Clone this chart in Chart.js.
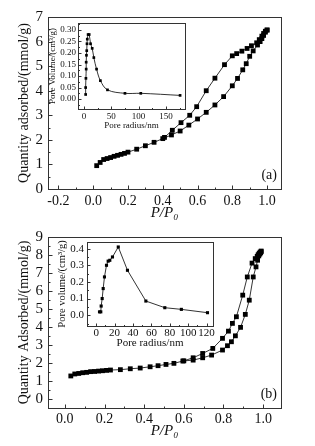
<!DOCTYPE html>
<html>
<head>
<meta charset="utf-8">
<script src="https://cdn.jsdelivr.net/npm/chart.js@4.4.1/dist/chart.umd.min.js"></script>
<style>
  html, body { margin: 0; padding: 0; background: #fff; overflow: hidden; }
  #wrap { position: relative; width: 315px; height: 446px; }
  canvas { position: absolute; }
</style>
</head>
<body>
<div id="wrap">
  <canvas id="mainA" width="315" height="222" style="left:0;top:0"></canvas>
  <canvas id="mainB" width="315" height="224" style="left:0;top:222px"></canvas>
  <canvas id="insetA" width="145" height="112" style="left:44px;top:19px"></canvas>
  <canvas id="insetB" width="162" height="114" style="left:55px;top:238px"></canvas>
</div>
<script>
// DATA
// -----------------------------------------------------------------------------
// (a) isotherm, adsorption and desorption branches
var aAdsP = [0.02, 0.04, 0.06, 0.08, 0.10, 0.12, 0.14, 0.16, 0.18, 0.20, 0.25, 0.30, 0.35, 0.40, 0.45, 0.50, 0.55, 0.60, 0.65, 0.70, 0.75, 0.80, 0.83, 0.86, 0.88, 0.90, 0.92, 0.945, 0.96, 0.97, 0.98, 0.99, 1.0];
var aAdsQ = [0.95, 1.08, 1.20, 1.24, 1.28, 1.33, 1.37, 1.41, 1.45, 1.50, 1.62, 1.76, 1.90, 2.05, 2.20, 2.36, 2.60, 2.85, 3.12, 3.42, 3.76, 4.20, 4.50, 4.85, 5.10, 5.40, 5.62, 5.86, 6.00, 6.12, 6.25, 6.38, 6.47];
var aDesP = [1.0, 0.99, 0.98, 0.97, 0.955, 0.94, 0.91, 0.885, 0.855, 0.825, 0.80, 0.755, 0.70, 0.65, 0.595, 0.555, 0.505, 0.455, 0.41];
var aDesQ = [6.47, 6.42, 6.33, 6.22, 6.08, 5.95, 5.83, 5.72, 5.61, 5.51, 5.42, 5.06, 4.51, 4.00, 3.35, 3.00, 2.70, 2.39, 2.10];

// (a) inset, pore size distribution
var aPoreR = [3, 3, 3.5, 4, 4, 4.5, 5, 5.5, 6, 7.5, 9.5, 12, 15, 18, 23, 30, 43, 75, 104, 176];
var aPoreV = [0.02, 0.05, 0.09, 0.13, 0.16, 0.19, 0.21, 0.24, 0.26, 0.28, 0.28, 0.24, 0.22, 0.18, 0.13, 0.08, 0.04, 0.025, 0.025, 0.016];

// (b) isotherm
var bAdsP = [0.03, 0.05, 0.07, 0.09, 0.11, 0.13, 0.15, 0.17, 0.19, 0.21, 0.23, 0.28, 0.33, 0.38, 0.43, 0.47, 0.51, 0.55, 0.595, 0.647, 0.695, 0.74, 0.795, 0.82, 0.84, 0.86, 0.886, 0.91, 0.93, 0.95, 0.964, 0.972, 0.978, 0.983, 0.987, 0.99];
var bAdsQ = [1.28, 1.39, 1.42, 1.46, 1.48, 1.52, 1.53, 1.55, 1.57, 1.59, 1.61, 1.63, 1.68, 1.72, 1.79, 1.85, 1.92, 1.98, 2.11, 2.16, 2.29, 2.44, 2.72, 2.96, 3.18, 3.51, 3.98, 4.70, 5.49, 6.78, 7.34, 7.71, 7.95, 8.05, 8.12, 8.18];
var bDesP = [0.99, 0.985, 0.98, 0.975, 0.97, 0.96, 0.944, 0.92, 0.897, 0.865, 0.845, 0.825, 0.795, 0.746, 0.695, 0.647, 0.60];
var bDesQ = [8.22, 8.16, 8.10, 8.02, 7.93, 7.80, 7.55, 6.78, 5.77, 4.57, 4.20, 3.77, 3.37, 2.81, 2.53, 2.29, 2.12];

// (b) inset
var bPoreR = [3.6, 5, 5.4, 6.5, 7.6, 9, 11.2, 13, 14.8, 17.7, 24, 34, 54, 74.6, 92.6, 121];
var bPoreV = [0.02, 0.02, 0.055, 0.10, 0.16, 0.23, 0.30, 0.325, 0.33, 0.35, 0.41, 0.27, 0.085, 0.045, 0.035, 0.015];

// Tick labels
var aXTicks = [-0.2, 0.0, 0.2, 0.4, 0.6, 0.8, 1.0];
var aYTicks = [0, 1, 2, 3, 4, 5, 6, 7];
var bXTicks = [0.0, 0.2, 0.4, 0.6, 0.8, 1.0];
var bYTicks = [0, 1, 2, 3, 4, 5, 6, 7, 8, 9];
var aInXTicks = [0, 50, 100, 150];
var aInYTicks = [0.00, 0.05, 0.10, 0.15, 0.20, 0.25, 0.30];
var bInXTicks = [0, 20, 40, 60, 80, 100, 120];
var bInYTicks = [0.0, 0.1, 0.2, 0.3, 0.4];

// SETUP
// -----------------------------------------------------------------------------
var SERIF = '"Liberation Serif", "Times New Roman", serif';
Chart.defaults.font.family = SERIF;
Chart.defaults.color = '#111';

function pts(xs, ys) {
    return xs.map(function(v, i) { return { x: v, y: ys[i] }; });
}

function fixTicks(list) {
    return function(s) { s.ticks = list.map(function(v) { return { value: v }; }); };
}

// box round the plot area, inward ticks, panel label
var frame = {
    id: 'frame',
    beforeDraw: function(chart) {
        var a = chart.chartArea, ctx = chart.ctx;
        ctx.save();
        ctx.fillStyle = '#fff';
        ctx.fillRect(a.left, a.top, a.width, a.height);
        ctx.restore();
    },
    afterDraw: function(chart, args, o) {
        var ctx = chart.ctx, a = chart.chartArea;
        var sx = chart.scales.x, sy = chart.scales.y;
        var L = Math.round(a.left) + 0.5, R = Math.round(a.right) + 0.5;
        var T = Math.round(a.top) + 0.5, B = Math.round(a.bottom) + 0.5;
        ctx.save();
        ctx.strokeStyle = '#333';
        ctx.lineWidth = 1;
        ctx.strokeRect(L, T, R - L, B - T);

        function withMinor(vals) {
            var out = [];
            var step = vals[1] - vals[0];
            vals.forEach(function(v) { out.push([v, 1]); out.push([v + step / 2, 0]); });
            out.push([vals[0] - step / 2, 0]);
            return out;
        }
        ctx.beginPath();
        withMinor(sx.ticks.map(function(t) { return t.value; })).forEach(function(m) {
            if (m[0] < sx.min || m[0] > sx.max) return;
            var p = Math.round(sx.getPixelForValue(m[0])) + 0.5;
            ctx.moveTo(p, B);
            ctx.lineTo(p, B - (m[1] ? o.len : o.len / 2));
        });
        withMinor(sy.ticks.map(function(t) { return t.value; })).forEach(function(m) {
            if (m[0] < sy.min || m[0] > sy.max) return;
            var p = Math.round(sy.getPixelForValue(m[0])) + 0.5;
            ctx.moveTo(L, p);
            ctx.lineTo(L + (m[1] ? o.len : o.len / 2), p);
        });
        ctx.stroke();

        if (o.label) {
            ctx.fillStyle = '#111';
            ctx.font = '14px ' + SERIF;
            ctx.textAlign = 'right';
            ctx.textBaseline = 'middle';
            ctx.fillText(o.label, a.right - 4, a.bottom - 14);
        }
        ctx.restore();
    }
};

function series(data, r, smooth) {
    return {
        data: data,
        showLine: true,
        borderColor: '#000',
        backgroundColor: '#000',
        borderWidth: 0.8,
        pointStyle: 'rect',
        pointRadius: r,
        pointBorderWidth: 0,
        tension: smooth ? 0.35 : 0
    };
}

function makeChart(id, cfg) {
    return new Chart(document.getElementById(id), {
        type: 'line',
        data: { datasets: cfg.datasets },
        options: {
            responsive: false,
            animation: false,
            events: [],
            layout: { padding: cfg.pad },
            plugins: {
                legend: { display: false },
                tooltip: { enabled: false },
                frame: { len: cfg.len, label: cfg.label }
            },
            scales: {
                x: {
                    type: 'linear',
                    min: cfg.x.min, max: cfg.x.max,
                    afterBuildTicks: fixTicks(cfg.x.ticks),
                    afterFit: function(s) {
                        s.height = cfg.x.size;
                        s.paddingLeft = 0; s.paddingRight = 0;
                    },
                    grid: { display: false, drawTicks: false },
                    border: { display: false },
                    ticks: {
                        autoSkip: false,
                        font: { size: cfg.x.font },
                        padding: cfg.x.pad,
                        maxRotation: 0,
                        callback: function(v) { return v.toFixed(cfg.x.dec); }
                    },
                    title: {
                        display: true,
                        text: cfg.x.title,
                        font: { size: cfg.x.tfont, style: cfg.x.italic ? 'italic' : 'normal' },
                        padding: { top: 0, bottom: cfg.x.tpad }
                    }
                },
                y: {
                    type: 'linear',
                    min: cfg.y.min, max: cfg.y.max,
                    afterBuildTicks: fixTicks(cfg.y.ticks),
                    afterFit: function(s) {
                        s.width = cfg.y.size;
                        s.paddingTop = 0; s.paddingBottom = 0;
                    },
                    grid: { display: false, drawTicks: false },
                    border: { display: false },
                    ticks: {
                        autoSkip: false,
                        font: { size: cfg.y.font },
                        padding: cfg.y.pad,
                        callback: function(v) { return v.toFixed(cfg.y.dec); }
                    },
                    title: {
                        display: true,
                        text: cfg.y.title,
                        font: { size: cfg.y.tfont },
                        padding: { top: cfg.y.tpad, bottom: 0 }
                    }
                }
            }
        },
        plugins: [frame]
    });
}

// CHARTS
// -----------------------------------------------------------------------------
makeChart('mainA', {
    datasets: [series(pts(aAdsP, aAdsQ), 3.4), series(pts(aDesP, aDesQ), 3.4)],
    pad: { left: 0, right: 34, top: 17, bottom: 0 },
    len: 4, label: '(a)',
    x: { min: -0.26, max: 1.08, ticks: aXTicks, size: 33, font: 14, pad: 4, dec: 1,
         title: 'P/P\u2080', tfont: 15, italic: true, tpad: 0 },
    y: { min: 0, max: 7, ticks: aYTicks, size: 48, font: 15, pad: 5, dec: 0,
         title: 'Quantity adsorbed/(mmol/g)', tfont: 14, tpad: 16 }
});

makeChart('mainB', {
    datasets: [series(pts(bAdsP, bAdsQ), 3.4), series(pts(bDesP, bDesQ), 3.4)],
    pad: { left: 0, right: 34, top: 15, bottom: 0 },
    len: 4, label: '(b)',
    x: { min: -0.085, max: 1.09, ticks: bXTicks, size: 38, font: 14, pad: 3, dec: 1,
         title: 'P/P\u2080', tfont: 15, italic: true, tpad: 6 },
    y: { min: -0.5, max: 9, ticks: bYTicks, size: 48, font: 15, pad: 5, dec: 0,
         title: 'Quantity Adsorbed/(mmol/g)', tfont: 14, tpad: 16 }
});

makeChart('insetA', {
    datasets: [series(pts(aPoreR, aPoreV), 1.9, true)],
    pad: { left: 0, right: 2, top: 2, bottom: 0 },
    len: 3, label: '',
    x: { min: -11, max: 185, ticks: aInXTicks, size: 22, font: 9, pad: 2, dec: 0,
         title: 'Pore radius/nm', tfont: 9, italic: false, tpad: 0 },
    y: { min: -0.043, max: 0.33, ticks: aInYTicks, size: 34, font: 9, pad: 2, dec: 2,
         title: 'Pore Volume/(cm\u00b3/g)', tfont: 9, tpad: 3 }
});

makeChart('insetB', {
    datasets: [series(pts(bPoreR, bPoreV), 2.2)],
    pad: { left: 0, right: 3, top: 3, bottom: 0 },
    len: 3, label: '',
    x: { min: -10, max: 127, ticks: bInXTicks, size: 26, font: 11, pad: 1, dec: 0,
         title: 'Pore radius/nm', tfont: 11, italic: false, tpad: 2 },
    y: { min: -0.065, max: 0.44, ticks: bInYTicks, size: 32, font: 11, pad: 3, dec: 1,
         title: 'Pore volume/(cm\u00b3/g)', tfont: 10.5, tpad: 1 }
});
</script>
</body>
</html>
